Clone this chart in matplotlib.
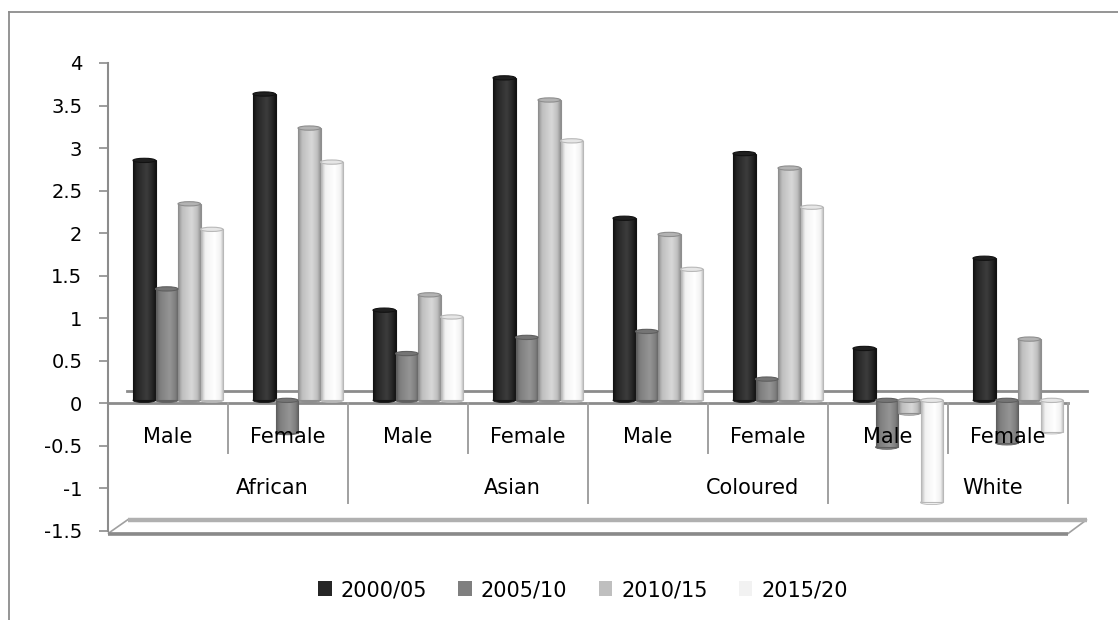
import matplotlib
matplotlib.use("Agg")
import matplotlib.pyplot as plt
import numpy as np
from matplotlib.transforms import ScaledTranslation
from matplotlib.patches import Ellipse, Polygon, Patch
from matplotlib.colors import LinearSegmentedColormap
from matplotlib.lines import Line2D

# ---- data -------------------------------------------------------------
groups = ["African", "Asian", "Coloured", "White"]
sexes = ["Male", "Female"]
periods = ["2000/05", "2005/10", "2010/15", "2015/20"]

# order: African M, African F, Asian M, Asian F, Coloured M, Coloured F, White M, White F
p2000_05 = [2.82, 3.60, 1.06, 3.79, 2.14, 2.90, 0.61, 1.67]
p2005_10 = [1.31, -0.38, 0.55, 0.74, 0.81, 0.25, -0.55, -0.50]
p2010_15 = [2.31, 3.20, 1.24, 3.53, 1.95, 2.73, -0.15, 0.72]
p2015_20 = [2.01, 2.80, 0.98, 3.05, 1.54, 2.27, -1.20, -0.37]
series = [p2000_05, p2005_10, p2010_15, p2015_20]

y_ticks = [-1.5, -1, -0.5, 0, 0.5, 1, 1.5, 2, 2.5, 3, 3.5, 4]

# ---- styling ----------------------------------------------------------
# (base, edge, highlight, cap) for each period's cylinders
styles = [
    ("#262626", "#121212", "#3c3c3c", "#202020"),
    ("#7f7f7f", "#5f5f5f", "#959595", "#757575"),
    ("#bfbfbf", "#8e8e8e", "#d8d8d8", "#b3b3b3"),
    ("#f2f2f2", "#b8b8b8", "#ffffff", "#e6e6e6"),
]
GRID = "#8c8c8c"

W, H = 1118, 620
fig = plt.figure(figsize=(W / 100, H / 100), dpi=100)
ax = fig.add_axes([108 / W, 1 - 531 / H, 960 / W, 468 / H])

# depth shift of the bar row behind the front floor edge
shift = ax.transData + ScaledTranslation(10 / 100, 3 / 100, fig.dpi_scale_trans)

n_cat = len(p2000_05)
bw = 0.1875
cap_h = 0.05

for s, vals in enumerate(series):
    base, edge, hi, cap = styles[s]
    cmap = LinearSegmentedColormap.from_list(
        f"cyl{s}", [(0, edge), (0.18, base), (0.6, hi), (0.85, base), (1, edge)])
    xs = np.arange(n_cat) + 0.5 + (s - 1.5) * bw
    bars = ax.bar(xs, vals, width=bw, color=base, edgecolor="none",
                  transform=shift, zorder=3)
    for x, v, rect in zip(xs, vals, bars):
        lo, top = min(0, v), max(0, v)
        im = ax.imshow(np.linspace(0, 1, 64).reshape(1, -1), cmap=cmap,
                       extent=[x - bw / 2, x + bw / 2, lo, top], aspect="auto",
                       transform=shift, zorder=3.1, interpolation="bilinear")
        im.set_clip_path(rect)
        # rounded bottom and top face of the cylinder
        ax.add_patch(Ellipse((x, lo), bw, cap_h, transform=shift,
                             fc=base if v < 0 else edge, ec=edge, lw=0.6, zorder=2.9))
        ax.add_patch(Ellipse((x, top), bw, cap_h, transform=shift,
                             fc=cap, ec=edge, lw=0.8, zorder=3.3))
    ax.bar(xs, vals, width=bw, fill=False, edgecolor=edge, lw=0.8,
           transform=shift, zorder=3.2)

# ---- floor, category table and base slab -----------------------------
ax.plot([0.158, 8.158], [0.141, 0.141], color=GRID, lw=2, zorder=1, clip_on=False)
ax.plot([0, 8], [0, 0], color=GRID, lw=2, zorder=2, clip_on=False)
for x in [1, 3, 5, 7]:
    ax.plot([x, x], [0, -0.588], color="#a0a0a0", lw=1.4, zorder=2, clip_on=False)
for x in [0, 2, 4, 6, 8]:
    ax.plot([x, x], [0, -1.176], color="#a0a0a0", lw=1.4, zorder=2, clip_on=False)

slab = [(0, -1.53), (8, -1.53), (8.158, -1.365), (0.167, -1.365)]
ax.add_patch(Polygon(slab, closed=True, fc="white", ec="#a0a0a0", lw=1.2,
                     zorder=2, clip_on=False))
ax.plot([0.167, 8.158], [-1.365, -1.365], color="#b0b0b0", lw=3.2, zorder=2.1,
        clip_on=False, solid_capstyle="butt")
ax.plot([0, 8], [-1.53, -1.53], color="#8a8a8a", lw=2.6, zorder=2.1,
        clip_on=False, solid_capstyle="butt")

for i in range(n_cat):
    ax.text(i + 0.5, -0.39, sexes[i % 2], ha="center", va="center",
            fontsize=15, color="black", zorder=6)
for g, name in enumerate(groups):
    ax.text(2 * g + 1 + 0.37, -1.0, name, ha="center", va="center",
            fontsize=15, color="black", zorder=6)

# ---- axes -------------------------------------------------------------
ax.set_xlim(0, 8)
ax.set_ylim(-1.5, 4)
for side in ["top", "right", "bottom"]:
    ax.spines[side].set_visible(False)
ax.spines["left"].set_color(GRID)
ax.spines["left"].set_linewidth(1.5)
ax.set_xticks([])
ax.set_yticks(y_ticks)
ax.set_yticklabels([f"{v:g}" for v in y_ticks])
ax.tick_params(axis="y", length=6.5, width=1.2, color=GRID, pad=12,
               labelsize=14, labelcolor="black")
ax.patch.set_visible(False)

# ---- legend -----------------------------------------------------------
handles = [Patch(fc=st[0], ec="none") for st in styles]
fig.legend(handles, periods, loc="center", bbox_to_anchor=(583 / W, 1 - 590 / H),
           ncol=4, frameon=False, fontsize=15, handlelength=0.65, handleheight=0.7,
           handletextpad=0.43, columnspacing=1.5)

# ---- chart-area border ------------------------------------------------
fig.add_artist(Line2D([9 / W, 9 / W], [0, 1 - 12 / H], transform=fig.transFigure,
                      color=GRID, lw=1.3))
fig.add_artist(Line2D([9 / W, 1], [1 - 12 / H, 1 - 12 / H], transform=fig.transFigure,
                      color=GRID, lw=1.3))

fig.savefig("out.png", dpi=100, facecolor="white")
